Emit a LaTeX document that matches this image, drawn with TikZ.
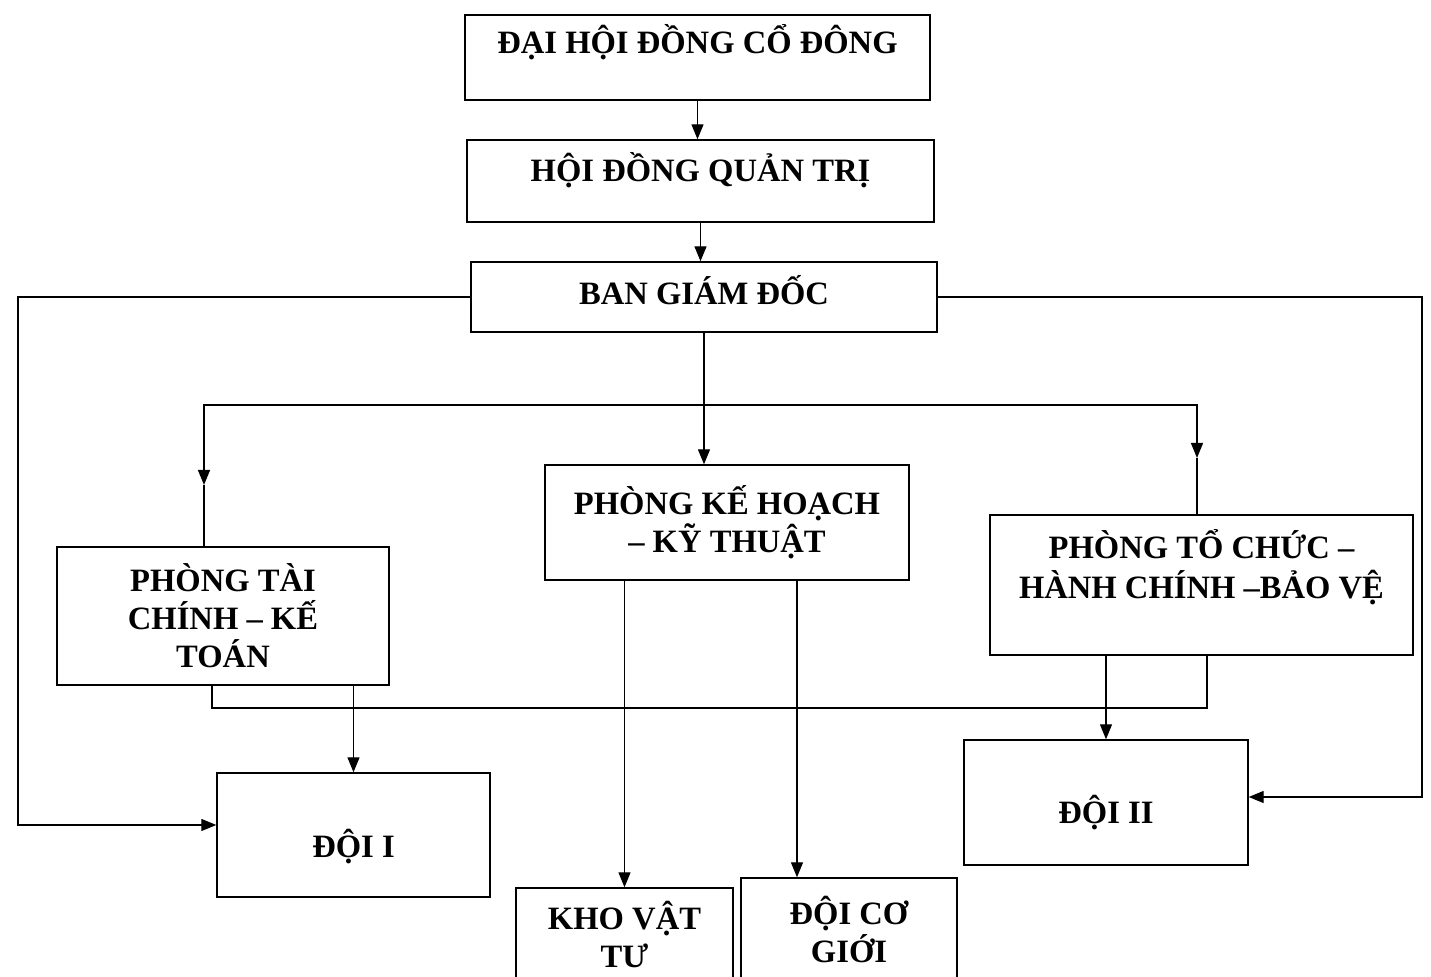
\documentclass[tikz,border=0pt]{standalone}
\usepackage{fontspec}
\setmainfont{Liberation Serif}
\usetikzlibrary{arrows.meta,positioning}
\newcommand\liftby[2]{\raisebox{#1}[\height][\depth]{#2}}
\tikzset{
  box/.style={draw,line width=0.7pt,align=center,font=\fontsize{16.3}{19}\selectfont\bfseries,inner sep=2pt},
  arr/.style={-{Triangle[length=7.5pt,width=6pt]}},
}

\begin{document}
\begin{tikzpicture}[x=0.5pt,y=-0.5pt,line width=0.65pt]
\useasboundingbox (0,0) rectangle (1431,977);
\clip (0,0) rectangle (1431,977);
% boxes
\node[box,minimum width=232.5pt,minimum height=42.5pt] (dhdcd) at (697.5,57.5) {\liftby{7.5pt}{ĐẠI HỘI ĐỒNG CỔ ĐÔNG}};
\node[box,minimum width=233.5pt,minimum height=41pt] (hdqt) at (700.5,181) {\liftby{5.5pt}{HỘI ĐỒNG QUẢN TRỊ}};
\node[box,minimum width=233pt,minimum height=35pt] (bgd) at (704,297) {\liftby{3.5pt}{BAN GIÁM ĐỐC}};
\node[box,minimum width=182pt,minimum height=57.5pt] (pkh) at (727,522.5) {PHÒNG KẾ HOẠCH\\– KỸ THUẬT};
\node[box,minimum width=166pt,minimum height=69pt] (ptc) at (223,616) {PHÒNG TÀI\\CHÍNH – KẾ\\TOÁN};
\node[box,minimum width=211.5pt,minimum height=70pt] (ptchc) at (1201.5,585) {\liftby{7.5pt}{\begin{tabular}{@{}c@{}}PHÒNG TỔ CHỨC –\\HÀNH CHÍNH –BẢO VỆ\end{tabular}}};
\node[box,minimum width=136.5pt,minimum height=62pt] (doi1) at (353.5,835) {\liftby{-6pt}{ĐỘI I}};
\node[box,minimum width=142pt,minimum height=62.5pt] (doi2) at (1106,802.5) {\liftby{-5pt}{ĐỘI II}};
\node[box,minimum width=108.5pt,minimum height=47pt] (kho) at (624.5,935) {KHO VẬT\\TƯ};
\node[box,minimum width=108pt,minimum height=52pt] (dcg) at (849,930) {ĐỘI CƠ\\GIỚI};
% helper points
\coordinate (bus) at (704,405);
\coordinate (lt) at (204,485);
\coordinate (rt) at (1197,458);
\coordinate (lf) at (18,825);
\coordinate (rf) at (1422,797);
\coordinate (lk1) at (212,708);
\coordinate (lk2) at (1207,708);
\coordinate (c2) at (797,0);
% connectors
\draw[arr] (dhdcd.south) -- (dhdcd.south |- hdqt.north);
\draw[arr] (hdqt.south) -- (hdqt.south |- bgd.north);
\draw (bgd.south) -- (bus);
\draw[arr] (bus) -- (bus |- pkh.north);
\draw[arr] (bus) -| (lt);\draw (lt) -- (lt |- ptc.north);
\draw[arr] (bus) -| (rt);\draw (rt) -- (rt |- ptchc.north);
\draw[arr] (bgd.west) -| (lf) -- (lf -| doi1.west);
\draw[arr] (bgd.east) -| (rf) -- (rf -| doi2.east);
\draw (lk1 |- ptc.south) -- (lk1) -- (lk2) -- (lk2 |- ptchc.south);
\draw[arr] (ptc.south -| doi1) -- (doi1.north);
\draw[arr] (ptchc.south -| doi2) -- (doi2.north);
\draw[arr] (pkh.south -| kho) -- (kho.north);
\draw[arr] (pkh.south -| c2) -- (c2 |- dcg.north);
\end{tikzpicture}
\end{document}
